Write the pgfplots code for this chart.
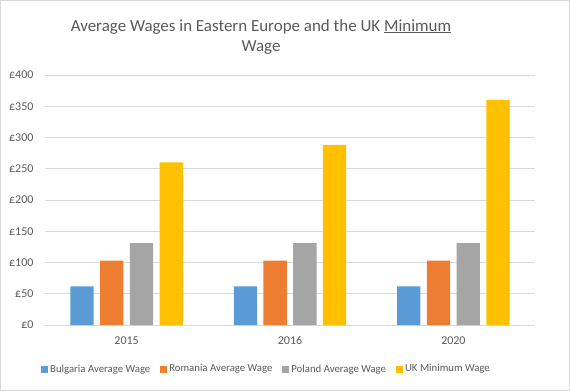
\documentclass[border=0pt]{standalone}
\usepackage{fontspec}
\setmainfont{Carlito}
\usepackage{pgfplots}
\pgfplotsset{compat=1.18}
\definecolor{cblue}{HTML}{5B9BD5}
\definecolor{corange}{HTML}{ED7D31}
\definecolor{cgray}{HTML}{A5A5A5}
\definecolor{cgold}{HTML}{FFC000}
\definecolor{tgray}{HTML}{595959}
\definecolor{gridc}{HTML}{D9D9D9}
\definecolor{framec}{HTML}{D9D9D9}
\begin{document}
\begin{tikzpicture}[x=1bp,y=1bp]
\draw[color=framec, line width=0.8bp] (0.5,0.5) rectangle (569.5,390.5);
\node[text=tgray, font=\fontsize{17}{20.5}\selectfont, align=center] at (261,354) {Average Wages in Eastern Europe and the UK \underline{Minimum}\\Wage};
\begin{axis}[
  at={(45bp,66bp)}, anchor=south west,
  scale only axis, width=490bp, height=250bp,
  ymin=0, ymax=400, xmin=-0.5, xmax=2.5,
  ybar=6.4bp, bar width=23.3bp,
  xtick={0,1,2}, xticklabels={2015,2016,2020},
  ytick={0,50,...,400},
  yticklabel={£\pgfmathprintnumber{\tick}},
  /pgf/number format/assume math mode=true,
  ymajorgrids, grid style={color=gridc, line width=0.75bp},
  axis line style={draw=none}, tick style={draw=none},
  yticklabel style={text=tgray, font=\fontsize{12}{14}\selectfont, xshift=-8bp},
  xticklabel style={text=tgray, font=\fontsize{12}{14}\selectfont, yshift=-4bp},
  legend style={at={(0.451,-0.176)}, anchor=center, draw=none, fill=none,
    font=\fontsize{10.8}{13}\selectfont, text=tgray,
    /tikz/every odd column/.append style={column sep=1bp},
    /tikz/every even column/.append style={column sep=8bp},
    nodes={inner xsep=1.5bp}},
  legend columns=4,
  legend image code/.code={\fill[#1, draw=none] (0bp,-3.5bp) rectangle (7bp,3.5bp);},
]
\addplot[fill=cblue, draw=none] coordinates {(0,62) (1,62) (2,62)};
\addplot[fill=corange, draw=none] coordinates {(0,103) (1,103) (2,103)};
\addplot[fill=cgray, draw=none] coordinates {(0,131) (1,131) (2,131)};
\addplot[fill=cgold, draw=none] coordinates {(0,260) (1,288) (2,360)};
\legend{Bulgaria Average Wage, Romania Average Wage, Poland Average Wage, UK Minimum Wage}
\end{axis}
\end{tikzpicture}
\end{document}
